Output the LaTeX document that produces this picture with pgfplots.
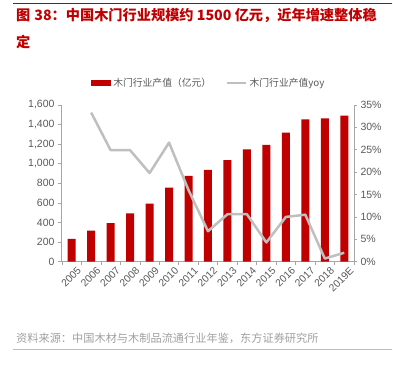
\documentclass[border=0pt]{standalone}
\usepackage{pgfplots}
\pgfplotsset{compat=1.18}
\usepackage{fontspec}
\setmainfont{Liberation Sans}
\newfontfamily\cjk{Noto Sans CJK SC}
\definecolor{barred}{HTML}{C00000}
\definecolor{linegray}{HTML}{BFBFBF}
\definecolor{ticktext}{HTML}{595959}
\definecolor{axisgray}{HTML}{A6A6A6}
\definecolor{srcgray}{HTML}{A0A0A0}
\definecolor{pinkline}{HTML}{F4A7A7}
\begin{document}
\begin{tikzpicture}
\path[use as bounding box] (0,0) rectangle (393bp,369bp);
% top line and title
\draw[barred, line width=0.8bp] (13bp,365.7bp) -- (392bp,365.7bp);
\node[anchor=west, inner sep=0pt, text=barred, font=\cjk\bfseries\fontsize{14.2bp}{16bp}\selectfont] at (16bp,354bp) {图\hspace{4bp}38：中国木门行业规模约 1500 亿元，近年增速整体稳};
\node[anchor=west, inner sep=0pt, text=barred, font=\cjk\bfseries\fontsize{14.2bp}{16bp}\selectfont] at (16bp,326.5bp) {定};
% source
\node[anchor=west, inner sep=0pt, text=srcgray, font=\cjk\fontsize{11.2bp}{13bp}\selectfont] at (16bp,31bp) {资料来源：中国木材与木制品流通行业年鉴，东方证券研究所};
\draw[pinkline, line width=0.8bp] (13bp,20bp) -- (392bp,20bp);

\begin{axis}[
  at={(61bp,107.3bp)}, anchor=south west,
  scale only axis, width=293bp, height=156.7bp,
  xmin=-0.55, xmax=14.5, ymin=0, ymax=1600,
  axis y line*=left, axis x line*=bottom,
  axis line style={draw=axisgray, line width=0.6bp},
  xtick={0,...,14},
  xticklabels={2005,2006,2007,2008,2009,2010,2011,2012,2013,2014,2015,2016,2017,2018,2019E},
  major x tick style={draw=none},
  minor xtick={-0.5,0.5,...,14.5},
  minor x tick style={draw=axisgray, line width=0.6bp},
  minor tick length=3bp,
  tick align=outside,
  ytick={0,200,...,1600},
  y tick style={draw=axisgray, line width=0.6bp},
  major tick length=3bp,
  x tick label style={rotate=45, anchor=north east, inner sep=0.5bp, xshift=3bp, yshift=-4bp, font=\fontsize{10.3bp}{12bp}\selectfont, text=ticktext},
  y tick label style={font=\fontsize{10.5bp}{12bp}\selectfont, text=ticktext},
  /pgf/number format/assume math mode=true,
  /pgf/number format/1000 sep={,},
  legend style={at={(0.505,1.14)}, anchor=center, draw=none, fill=none,
    legend columns=2, font=\cjk\fontsize{9.8bp}{11bp}\selectfont, text=ticktext,
    /tikz/every even column/.append style={column sep=12bp}},
  legend image code/.code={\fill[barred] (0cm,-0.1cm) rectangle (0.7cm,0.1cm);},
]
\addplot[ybar, bar width=8bp, fill=barred, draw=none] coordinates {
(0,233) (1,318) (2,394) (3,493) (4,592) (5,756) (6,876) (7,937) (8,1036) (9,1146) (10,1194) (11,1317) (12,1454) (13,1464) (14,1492)};
\addlegendentry{木门行业产值（亿元）}
\addlegendimage{legend image code/.code={\draw[linegray, line width=2.5bp] (0cm,0cm) -- (0.7cm,0cm);}}
\addlegendentry{木门行业产值yoy}
\end{axis}

\begin{axis}[
  at={(61bp,107.3bp)}, anchor=south west,
  scale only axis, width=293bp, height=156.7bp,
  xmin=-0.55, xmax=14.5, ymin=0, ymax=35,
  axis y line*=right, axis x line=none,
  axis line style={draw=axisgray, line width=0.6bp},
  ytick={0,5,...,35},
  yticklabel={\pgfmathprintnumber{\tick}\%},
  y tick style={draw=axisgray, line width=0.6bp},
  major tick length=3bp, tick align=outside,
  y tick label style={font=\fontsize{10.5bp}{12bp}\selectfont, text=ticktext},
  /pgf/number format/assume math mode=true,
]
\addplot[linegray, line width=2.5bp, line join=round] coordinates {
(1,33.3) (2,24.9) (3,24.9) (4,19.8) (5,26.6) (6,16.0) (7,6.8) (8,10.6) (9,10.6) (10,4.3) (11,10.0) (12,10.5) (13,0.7) (14,2.0)};
\end{axis}
\end{tikzpicture}
\end{document}
